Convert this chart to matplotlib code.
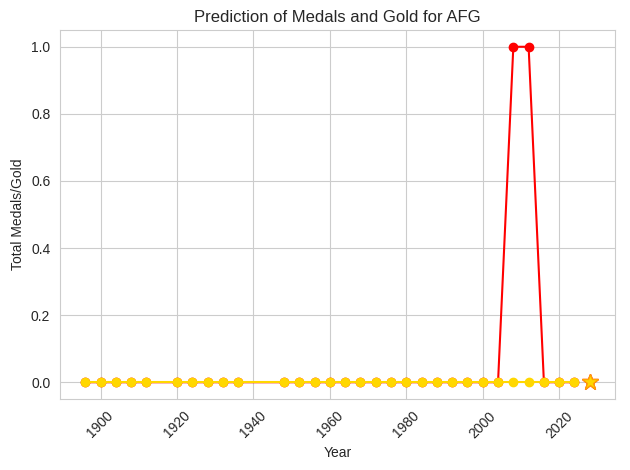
import matplotlib
matplotlib.use("Agg")
import matplotlib.pyplot as plt
import seaborn as sns

sns.set_style("whitegrid")
plt.rcParams["font.family"] = ["Liberation Sans", "DejaVu Sans"]

years = [1896, 1900, 1904, 1908, 1912, 1920, 1924, 1928, 1932, 1936,
         1948, 1952, 1956, 1960, 1964, 1968, 1972, 1976, 1980, 1984,
         1988, 1992, 1996, 2000, 2004, 2008, 2012, 2016, 2020, 2024]
medals = [0] * 25 + [1, 1, 0, 0, 0]
gold = [0] * 30
pred_year = 2028
pred_medals = 0
pred_gold = 0

fig, ax = plt.subplots(figsize=(6.3, 4.7), dpi=100)
ax.plot(years, medals, marker="o", color="red", label="Total Medals")
ax.plot(years, gold, marker="o", color="gold", label="Gold")
ax.plot(pred_year, pred_medals, marker="*", color="red", markersize=12)
ax.plot(pred_year, pred_gold, marker="*", color="gold", markeredgecolor="orange", markersize=12)

ax.set_title("Prediction of Medals and Gold for AFG")
ax.set_xlabel("Year")
ax.set_ylabel("Total Medals/Gold")
plt.xticks(rotation=45)
fig.subplots_adjust(left=60/630, right=615/630, top=1 - 30/470, bottom=1 - 399/470)
plt.savefig("out.png")
